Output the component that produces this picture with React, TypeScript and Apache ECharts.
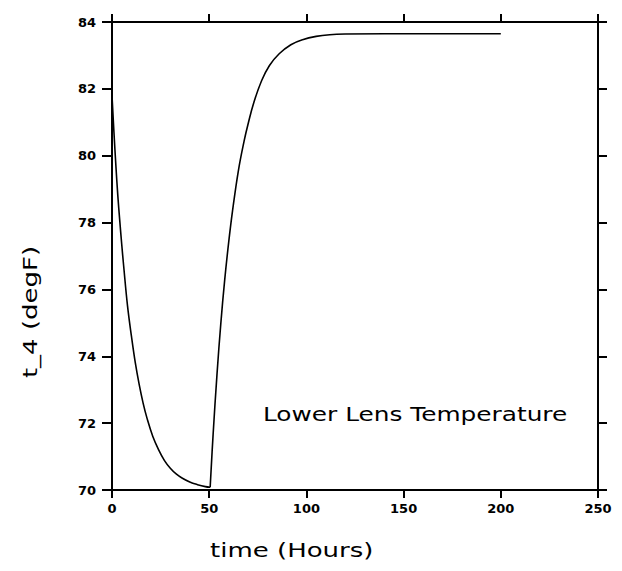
import React, { useEffect, useRef } from "react";
import * as echarts from "echarts";

// Time (hours) and lower lens temperature (degF)
const coolTime = [0, 1, 2, 3, 4, 5, 6, 8, 10, 12, 14, 16, 18, 21, 24, 27, 30, 33, 36, 40, 44, 48, 50.5];
const coolTemp = [81.8, 80.7, 79.7, 78.8, 78.05, 77.35, 76.7, 75.5, 74.6, 73.8, 73.15, 72.6, 72.15, 71.6, 71.2, 70.88, 70.65, 70.48, 70.36, 70.24, 70.16, 70.1, 70.08];
const heatTime = [50.5, 52, 54, 56, 58, 60, 62, 65, 68, 70, 73, 77, 81, 86, 92, 98, 105, 112, 120, 140, 170, 200];
const heatTemp = [70.08, 71.65, 73.45, 75.0, 76.3, 77.4, 78.35, 79.55, 80.45, 80.95, 81.6, 82.25, 82.7, 83.05, 83.32, 83.47, 83.57, 83.62, 83.64, 83.65, 83.65, 83.65];

const xTicks = [0, 50, 100, 150, 200, 250];
const yTicks = [70, 72, 74, 76, 78, 80, 82, 84];

const annotation = "Lower Lens Temperature";
const xTitle = "time (Hours)";
const yTitle = "t_4 (degF)";

export default function App() {
  const ref = useRef<HTMLDivElement>(null);
  useEffect(() => {
    if (!ref.current) return;
    const chart = echarts.init(ref.current, null, { renderer: "svg" });
    const axisLine = { show: true, onZero: false, lineStyle: { color: "#000", width: 2 } };
    const tickStyle = { lineStyle: { color: "#000", width: 2 } };
    const labelFont = { fontFamily: "DejaVu Sans", fontWeight: "bold", fontSize: 13, color: "#000" };
    chart.setOption({
      animation: false,
      backgroundColor: "#fff",
      grid: { left: 112, right: 24, top: 22, bottom: 81 },
      xAxis: [
        {
          type: "value", position: "bottom", min: xTicks[0], max: xTicks[xTicks.length - 1], interval: 50,
          axisLine, axisTick: { show: true, length: 8, ...tickStyle },
          axisLabel: { ...labelFont, margin: 12, showMinLabel: true, showMaxLabel: true },
          splitLine: { show: false },
        },
        {
          type: "value", position: "top", min: xTicks[0], max: xTicks[xTicks.length - 1], interval: 50,
          axisLine, axisTick: { show: true, length: 8, ...tickStyle },
          axisLabel: { show: false }, splitLine: { show: false },
        },
      ],
      yAxis: [
        {
          type: "value", position: "left", min: yTicks[0], max: yTicks[yTicks.length - 1], interval: 2,
          axisLine, axisTick: { show: true, length: 10, ...tickStyle },
          axisLabel: { ...labelFont, margin: 16, padding: [0, 0, 12, 0], showMinLabel: true, showMaxLabel: true },
          splitLine: { show: false },
        },
        {
          type: "value", position: "right", min: yTicks[0], max: yTicks[yTicks.length - 1], interval: 2,
          axisLine, axisTick: { show: true, length: 9, ...tickStyle },
          axisLabel: { show: false }, splitLine: { show: false },
        },
      ],
      series: [
        {
          type: "line", xAxisIndex: 0, yAxisIndex: 0, showSymbol: false, smooth: 0.4,
          lineStyle: { color: "#000", width: 1.6 },
          data: coolTime.map((t, i) => [t, coolTemp[i]]),
        },
        {
          type: "line", xAxisIndex: 0, yAxisIndex: 0, showSymbol: false, smooth: 0.4,
          lineStyle: { color: "#000", width: 1.6 },
          data: heatTime.map((t, i) => [t, heatTemp[i]]),
        },
      ],
      graphic: [
        {
          type: "text", x: 263, y: 414, scaleX: 1.24,
          style: { text: annotation, fontFamily: "DejaVu Sans", fontSize: 20, fill: "#000", verticalAlign: "middle" },
        },
        {
          type: "text", x: 210, y: 550, scaleX: 1.3,
          style: { text: xTitle, fontFamily: "DejaVu Sans", fontSize: 20, fill: "#000", verticalAlign: "middle" },
        },
        {
          type: "text", x: 30, y: 312, rotation: Math.PI / 2, scaleX: 1.3,
          style: { text: yTitle, fontFamily: "DejaVu Sans", fontSize: 20, fill: "#000", align: "center", verticalAlign: "middle" },
        },
      ],
    });
    return () => chart.dispose();
  }, []);
  return (
    <div
      ref={ref}
      style={{ position: "fixed", left: 0, top: 0, width: 622, height: 571 }}
    />
  );
}
